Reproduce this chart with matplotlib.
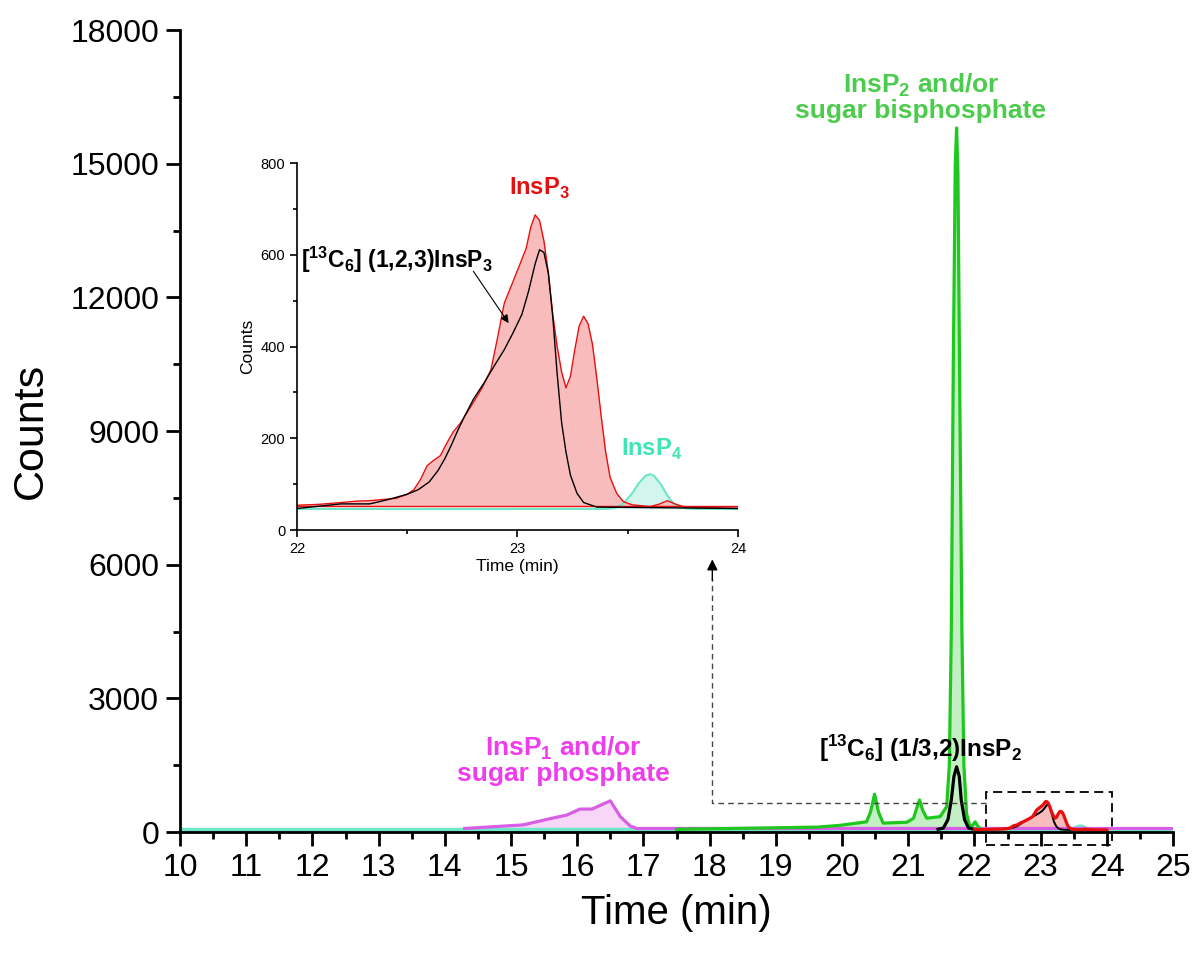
import matplotlib.pyplot as plt
from matplotlib.ticker import MultipleLocator

plt.rcParams["font.family"] = ["Liberation Sans", "DejaVu Sans"]
plt.rcParams["mathtext.fontset"] = "custom"
plt.rcParams["mathtext.rm"] = "Liberation Sans"
plt.rcParams["mathtext.bf"] = "Liberation Sans:bold"

# InsP1 / sugar phosphate trace (magenta)
insp1_t = [14.3, 14.63, 15.18, 15.59, 15.84, 16.04, 16.22, 16.5, 16.65, 16.8, 16.9, 25.0]
insp1_c = [80, 110, 160, 300, 380, 515, 515, 700, 345, 135, 80, 80]

# InsP2 / sugar bisphosphate trace (green)
insp2_t = [17.5, 19.62, 19.97, 20.37, 20.43, 20.49, 20.55, 20.62, 20.98, 21.08, 21.13, 21.17,
           21.22, 21.28, 21.48, 21.58, 21.62, 21.65, 21.68, 21.71, 21.73, 21.75, 21.78, 21.81,
           21.84, 21.88, 21.93, 21.97, 22.01, 22.05, 22.1]
insp2_c = [60, 110, 150, 230, 450, 850, 450, 200, 220, 310, 550, 720,
           480, 310, 345, 570, 1500, 4500, 10500, 15000, 15800, 14800, 9500, 4500,
           1500, 420, 130, 150, 230, 130, 60]

# [13C6] (1/3,2)InsP2 internal standard (black)
std2_t = [21.45, 21.53, 21.6, 21.65, 21.69, 21.73, 21.77, 21.8, 21.85, 21.91, 22.0]
std2_c = [60, 90, 280, 720, 1250, 1465, 1250, 720, 280, 90, 60]

# InsP3 trace (red)
insp3_t = [22.0, 22.1, 22.2, 22.27, 22.33, 22.4, 22.45, 22.5, 22.53, 22.56, 22.59, 22.62,
           22.65, 22.68, 22.71, 22.74, 22.77, 22.8, 22.84, 22.88, 22.91, 22.94, 22.97, 23.0,
           23.02, 23.04, 23.06, 23.08, 23.1, 23.12, 23.14, 23.16, 23.18, 23.2, 23.22, 23.24,
           23.26, 23.28, 23.3, 23.32, 23.34, 23.36, 23.38, 23.4, 23.42, 23.45, 23.48, 23.52,
           23.6, 23.64, 23.68, 23.72, 23.76, 24.0]
insp3_c = [54, 56, 60, 63, 64, 67, 69, 78, 88, 110, 140, 152,
           162, 190, 215, 232, 255, 278, 310, 350, 420, 494, 530, 566,
           590, 615, 660, 687, 675, 630, 560, 470, 400, 345, 310, 335,
           393, 445, 466, 450, 405, 330, 247, 170, 115, 80, 62, 55,
           51, 56, 64, 56, 50, 47]
insp3_base = 52

# [13C6] (1,2,3)InsP3 internal standard (black)
std3_t = [22.0, 22.2, 22.33, 22.41, 22.5, 22.55, 22.6, 22.64, 22.67, 22.7, 22.73, 22.76,
          22.8, 22.85, 22.9, 22.94, 22.98, 23.02, 23.05, 23.08, 23.1, 23.12, 23.14, 23.16,
          23.18, 23.2, 23.22, 23.24, 23.27, 23.3, 23.36, 24.0]
std3_c = [47, 57, 57, 66, 78, 88, 105, 130, 155, 185, 218, 248,
          285, 322, 362, 393, 430, 470, 520, 580, 611, 605, 560, 465,
          340, 235, 170, 120, 80, 60, 50, 47]

# InsP4 trace (cyan)
insp4_t = [10.0, 23.4, 23.44, 23.48, 23.52, 23.55, 23.58, 23.6, 23.62, 23.65, 23.68, 23.71,
           23.75, 23.8, 25.0]
insp4_c = [45, 46, 48, 58, 80, 102, 118, 122, 118, 100, 75, 56,
           48, 46, 45]

x_ticks = list(range(10, 26))
y_ticks = [0, 3000, 6000, 9000, 12000, 15000, 18000]
inset_x_ticks = [22, 23, 24]
inset_y_ticks = [0, 200, 400, 600, 800]

magenta, magenta_fill, magenta_txt = "#d85ee6", "#f7d6f8", "#ee3cee"
green, green_fill, green_txt = "#1ec81e", "#c4efc4", "#4ccc4c"
red, red_fill = "#e60f0f", "#f8bcbc"
cyan, cyan_fill, cyan_txt = "#6ee6c8", "#d2f6ec", "#3ee6b4"

fig = plt.figure(figsize=(11.98, 9.59), dpi=100)
ax = fig.add_axes([0.1503, 0.1324, 0.8289, 0.8363])

lw = 2.3
ax.fill_between(insp4_t, insp4_c, insp4_c[0], color=cyan_fill, lw=0)
ax.plot(insp4_t, insp4_c, color=cyan, lw=3.2)
ax.fill_between(insp1_t, insp1_c, insp1_c[0], color=magenta_fill, lw=0)
ax.plot(insp1_t, insp1_c, color=magenta, lw=lw)
ax.fill_between(insp2_t, insp2_c, insp2_c[0], color=green_fill, lw=0)
ax.plot(insp2_t, insp2_c, color=green, lw=lw)
ax.plot(std2_t, std2_c, color="black", lw=lw)
ax.fill_between(insp3_t, insp3_c, insp3_base, color=red_fill, lw=0)
ax.plot(std3_t, std3_c, color="black", lw=1.4)
ax.plot(insp3_t, insp3_c, color=red, lw=lw)

ax.set_xlim(10, 25)
ax.set_ylim(0, 18000)
ax.set_xticks(x_ticks)
ax.set_yticks(y_ticks)
ax.xaxis.set_minor_locator(MultipleLocator(0.5))
ax.yaxis.set_minor_locator(MultipleLocator(1500))
for side in ("top", "right"):
    ax.spines[side].set_visible(False)
for side in ("left", "bottom"):
    ax.spines[side].set_linewidth(2.0)
ax.tick_params(which="major", direction="out", length=10, width=2.0, labelsize=23, pad=5)
ax.tick_params(which="minor", direction="out", length=5, width=2.0)
ax.set_xlabel("Time (min)", fontsize=29, labelpad=8)
ax.set_ylabel("Counts", fontsize=31, labelpad=14)

bold = dict(fontweight="bold", ha="center", va="center")
ax.text(21.19, 16500, "InsP$_\\mathbf{2}$ and/or\nsugar bisphosphate", color=green_txt,
        fontsize=19, linespacing=1.0, **bold)
ax.text(15.79, 1620, "InsP$_\\mathbf{1}$ and/or\nsugar phosphate", color=magenta_txt,
        fontsize=19, linespacing=1.0, **bold)
ax.text(21.19, 1880, "[$^\\mathbf{13}$C$_\\mathbf{6}$] (1/3,2)InsP$_\\mathbf{2}$", color="black",
        fontsize=17.5, **bold)

# zoom box around the InsP3 region and the dashed pointer to the inset
ax.add_patch(plt.Rectangle((22.17, -300), 1.9, 1200, fill=False, ls=(0, (5, 3)),
                           lw=1.3, ec="black", clip_on=False))
ax.plot([22.17, 18.04, 18.04], [650, 650, 5700], color="#444444", lw=1.0,
        ls=(0, (4, 3)), clip_on=False)
ax.annotate("", xy=(18.04, 6120), xytext=(18.04, 5650),
            arrowprops=dict(arrowstyle="-|>", color="black", lw=1.0,
                            mutation_scale=16, shrinkA=0, shrinkB=0))

# inset: InsP3 region enlarged
ins = fig.add_axes([0.2479, 0.4473, 0.3681, 0.3827])
ins.fill_between(insp4_t, insp4_c, insp4_c[0], color=cyan_fill, lw=0)
ins.plot(insp4_t, insp4_c, color=cyan, lw=1.5)
ins.fill_between(insp3_t, insp3_c, insp3_base, color=red_fill, lw=0)
ins.plot([insp3_t[0], insp3_t[-1]], [insp3_base, insp3_base], color=red, lw=1.0)
ins.plot(insp3_t, insp3_c, color=red, lw=1.0)
ins.plot(std3_t, std3_c, color="black", lw=1.0)

ins.set_xlim(22, 24)
ins.set_ylim(0, 800)
ins.set_xticks(inset_x_ticks)
ins.set_yticks(inset_y_ticks)
ins.xaxis.set_minor_locator(MultipleLocator(0.5))
ins.yaxis.set_minor_locator(MultipleLocator(100))
for side in ("top", "right"):
    ins.spines[side].set_visible(False)
for side in ("left", "bottom"):
    ins.spines[side].set_linewidth(1.2)
ins.tick_params(which="major", direction="out", length=5, width=1.2, labelsize=10.5)
ins.tick_params(which="minor", direction="out", length=3, width=1.2)
ins.set_xlabel("Time (min)", fontsize=12.5, labelpad=2)
ins.set_ylabel("Counts", fontsize=12.5, labelpad=4)

ins.text(23.10, 745, "InsP$_\\mathbf{3}$", color=red, fontsize=17, **bold)
ins.text(23.61, 175, "InsP$_\\mathbf{4}$", color=cyan_txt, fontsize=17, **bold)
ins.text(22.02, 589, "[$^\\mathbf{13}$C$_\\mathbf{6}$] (1,2,3)InsP$_\\mathbf{3}$", color="black",
         fontsize=16.5, fontweight="bold", ha="left", va="center")
ins.annotate("", xy=(22.96, 451), xytext=(22.80, 564),
             arrowprops=dict(arrowstyle="-|>", color="black", lw=0.8,
                             mutation_scale=12, shrinkA=0, shrinkB=0))

fig.savefig("out.png", dpi=100)
